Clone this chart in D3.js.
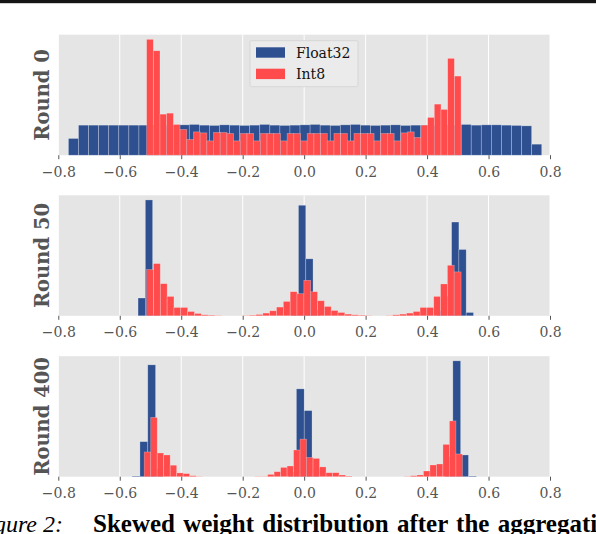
<!DOCTYPE html>
<html><head><meta charset="utf-8">
<script src="https://cdn.jsdelivr.net/npm/d3@7"></script>
<style>html,body{margin:0;padding:0;background:#fff;overflow:hidden}</style>
</head><body>
<script>
// ---------- data ----------
const xTicks = [-0.8, -0.6, -0.4, -0.2, 0.0, 0.2, 0.4, 0.6, 0.8];
const roundLabels = ["Round 0", "Round 50", "Round 400"];
const seriesNames = ["Float32", "Int8"];
const captionLabel = "Figure 2:";
const captionText = "Skewed weight distribution after the aggregation";

// Round 0 (bin ranges = [first edge, last edge])
const round0Float32Range = [-0.767, 0.773];
const round0Float32 = [16.7, 30.0, 30.0, 30.0, 30.0, 30.0, 30.0, 30.0, 30.3, 30.0, 29.7, 30.3, 30.7, 30.0, 29.7, 30.3,
  30.0, 29.7, 30.0, 30.7, 30.0, 29.7, 30.0, 30.3, 30.7, 30.0, 29.7, 30.3, 30.7, 30.0, 29.7, 30.0, 30.3, 29.7, 30.0,
  30.0, 29.7, 30.3, 30.0, 30.7, 30.0, 30.3, 30.3, 30.0, 29.7, 29.3, 11.0];
const round0Int8Range = [-0.5126, 0.5106];
const round0Int8 = [115.7, 104.3, 41.0, 42.0, 30.7, 25.7, 15.7, 23.3, 22.3, 14.3, 22.7, 22.7, 21.7, 14.3, 21.7, 21.7,
  14.3, 21.7, 21.7, 21.7, 14.3, 21.7, 21.7, 14.3, 21.7, 21.7, 21.7, 14.3, 21.7, 21.7, 14.3, 21.7, 21.7, 21.7, 14.3,
  21.7, 21.7, 14.3, 22.3, 23.3, 17.7, 30.0, 37.7, 51.0, 45.7, 96.7, 79.0];

// Round 50
const round50Float32Range = [-0.5405, 0.551];
const round50Float32 = [17.7, 115.3, 2.0, 0, 0, 0, 0, 0, 0, 0, 0, 0, 0, 0, 0, 0, 0, 0, 0, 0, 0, 12.0, 110.0, 56.7, 6.0,
  0, 0, 0, 0, 0, 0, 0, 0, 0, 0, 0, 0, 0, 0, 0, 0, 5.0, 20.0, 93.3, 66.0, 3.3];
const round50Int8Range = [-0.5126, 0.5106];
const round50Int8 = [46.0, 52.0, 32.0, 19.3, 8.3, 8.3, 4.3, 2.3, 1.0, 0.7, 0.3, 0, 0, 0, 0.3, 0.7, 1.3, 2.7, 5.0, 8.7,
  14.3, 24.0, 22.0, 35.3, 24.0, 15.0, 9.3, 5.3, 3.3, 1.7, 1.0, 0.7, 0.3, 0, 0, 0.3, 1.0, 1.7, 2.7, 4.3, 8.3, 8.3,
  19.3, 31.7, 50.3, 43.7];

// Round 400
const round400Float32Range = [-0.5598, 0.5602];
const round400Float32 = [0.7, 35.0, 111.7, 8.0, 0, 0, 0, 0, 0, 0, 0, 0, 0, 0, 0, 0, 0, 0, 0, 0, 5.0, 87.7, 66.0, 8.0,
  0, 0, 0, 0, 0, 0, 0, 0, 0, 0, 0, 0, 0, 0, 0, 0, 20.0, 115.7, 21.7, 0.7];
const round400Int8Range = [-0.5204, 0.515];
const round400Int8 = [24.7, 59.2, 23.7, 21.7, 11.5, 3.8, 3.1, 1.0, 0.3, 0, 0, 0, 0, 0, 0, 0, 0, 0.3, 0.3, 2.3, 5.0,
  9.3, 10.7, 26.7, 37.5, 19.2, 18.3, 9.8, 4.0, 4.0, 1.7, 0.7, 0, 0, 0, 0, 0, 0, 0, 0, 0.3, 1.0, 1.7, 5.7, 11.7,
  12.7, 32.3, 55.7, 22.7];

const panels = [
  {label: roundLabels[0], f32: round0Float32, f32Range: round0Float32Range, i8: round0Int8, i8Range: round0Int8Range},
  {label: roundLabels[1], f32: round50Float32, f32Range: round50Float32Range, i8: round50Int8, i8Range: round50Int8Range},
  {label: roundLabels[2], f32: round400Float32, f32Range: round400Float32Range, i8: round400Int8, i8Range: round400Int8Range}
];

// ---------- layout / style ----------
const W = 596, H = 534;
const plotLeft = 58.3, plotRight = 550;
const panelTops = [34.7, 195.3, 356.2];
const panelH = 120.5;
const colors = {Float32: "#2E5090", Int8: "#FF4B4B"};
const bg = "#E5E5E5";
const tickColor = "#555555";

const svg = d3.select("body").append("svg").attr("width", W).attr("height", H)
  .style("display", "block");

svg.append("rect").attr("x", 0).attr("y", 0).attr("width", W).attr("height", 3.2).attr("fill", "#151515");

const x = d3.scaleLinear().domain([-0.8, 0.8]).range([plotLeft, plotRight]);

function toBins(values, range) {
  const n = values.length, w = (range[1] - range[0]) / n;
  return values.map((v, i) => ({x0: range[0] + i * w, x1: range[0] + (i + 1) * w, v}));
}

panels.forEach((p, pi) => {
  const top = panelTops[pi], bottom = top + panelH;
  const ymax = 1.04 * d3.max(p.f32.concat(p.i8));
  const y = d3.scaleLinear().domain([0, ymax]).range([bottom, top]);
  const g = svg.append("g");

  g.append("rect").attr("x", plotLeft).attr("y", top).attr("width", plotRight - plotLeft)
    .attr("height", panelH).attr("fill", bg);

  g.selectAll("line.grid").data(xTicks).join("line").attr("class", "grid")
    .attr("x1", d => x(d)).attr("x2", d => x(d)).attr("y1", top).attr("y2", bottom)
    .attr("stroke", "#ffffff").attr("stroke-width", 1);

  [["Float32", p.f32, p.f32Range], ["Int8", p.i8, p.i8Range]].forEach(([name, vals, rng]) => {
    g.append("g").selectAll("rect").data(toBins(vals, rng).filter(b => b.v > 0)).join("rect")
      .attr("x", b => x(b.x0)).attr("width", b => x(b.x1) - x(b.x0))
      .attr("y", b => y(b.v)).attr("height", b => y(0) - y(b.v))
      .attr("fill", colors[name])
      .attr("stroke", "rgba(255,255,255,0.35)").attr("stroke-width", 0.7);
  });

  const axis = d3.axisBottom(x).tickValues(xTicks).tickFormat(d3.format(".1f"))
    .tickSize(4).tickPadding(7.6);
  const ag = g.append("g").attr("transform", `translate(0,${bottom})`).call(axis);
  ag.select(".domain").remove();
  ag.selectAll(".tick line").attr("stroke", tickColor).attr("stroke-width", 1);
  ag.selectAll(".tick text").attr("fill", tickColor)
    .style("font-family", "'DejaVu Serif', serif").style("font-size", "14px");

  g.append("text")
    .attr("transform", `translate(49.2,${(top + bottom) / 2}) rotate(-90)`)
    .attr("text-anchor", "middle")
    .style("font-family", "'DejaVu Serif', serif").style("font-size", "19.5px").style("font-weight", "bold")
    .attr("fill", tickColor).text(p.label);

  if (pi === 0) {
    const lg = g.append("g");
    lg.append("rect").attr("x", 250).attr("y", 40.7).attr("width", 108).attr("height", 46)
      .attr("fill", "#EBEBEB").attr("stroke", "#D2D2D2").attr("stroke-width", 0.8).attr("rx", 1.5);
    seriesNames.forEach((s, i) => {
      lg.append("rect").attr("x", 256).attr("y", 47.3 + i * 21.4).attr("width", 29).attr("height", 10.4)
        .attr("fill", colors[s]);
      lg.append("text").attr("x", 296).attr("y", 57.8 + i * 21.4)
        .style("font-family", "'DejaVu Serif', serif").style("font-size", "14px")
        .attr("fill", "#111").text(s);
    });
  }
});

// caption
svg.append("text").attr("x", 63).attr("y", 531.5).attr("text-anchor", "end")
  .style("font-family", "'Liberation Serif', serif").style("font-size", "24px").style("font-style", "italic")
  .attr("fill", "#000").text(captionLabel);
svg.append("text").attr("x", 93).attr("y", 531.5)
  .style("font-family", "'Liberation Serif', serif").style("font-size", "25px").style("font-weight", "bold")
  .style("word-spacing", "2px")
  .attr("fill", "#000").text(captionText);
</script>
</body></html>
